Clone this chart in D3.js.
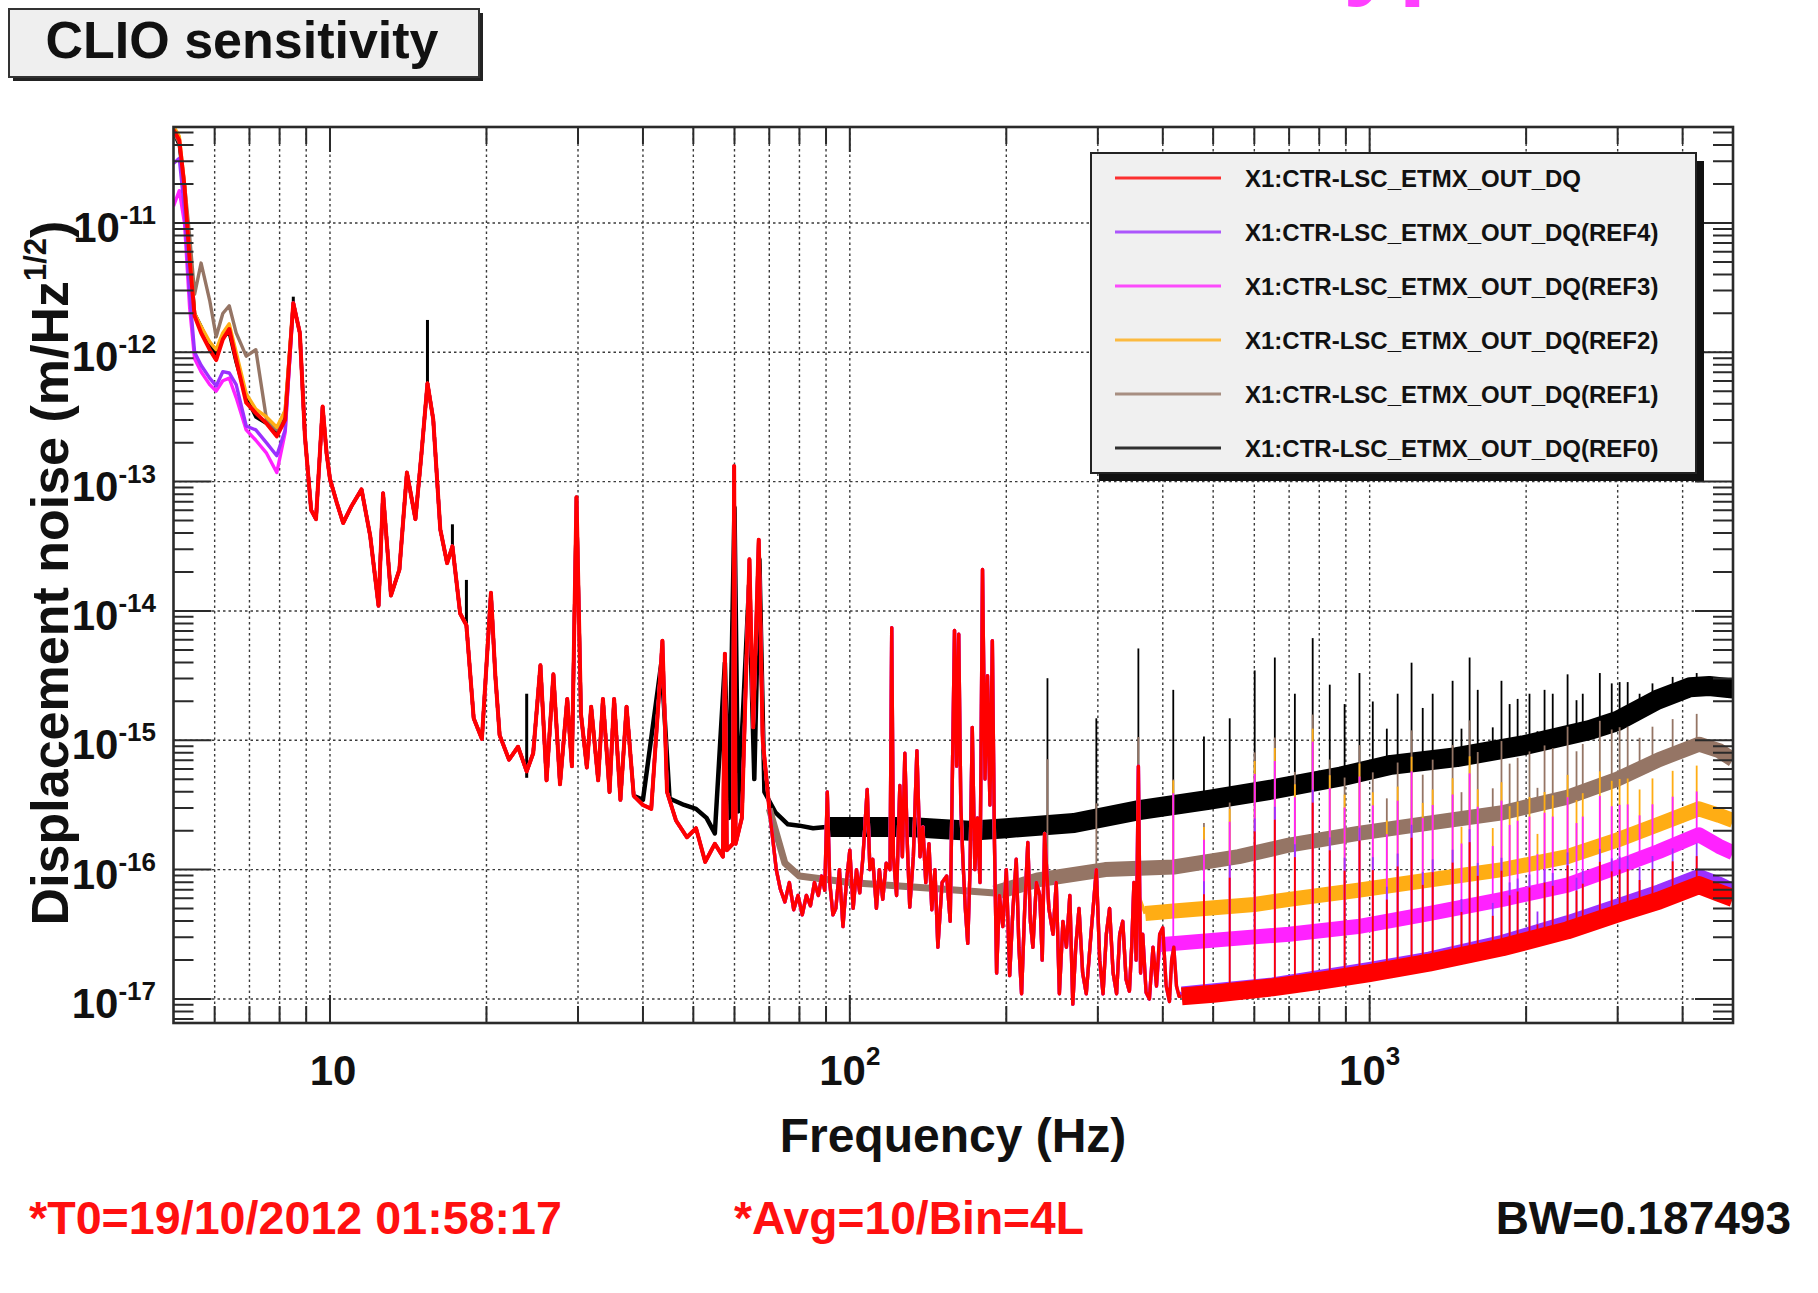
<!DOCTYPE html>
<html>
<head>
<meta charset="utf-8">
<script src="https://cdn.jsdelivr.net/npm/d3@7"></script>
<style>
body { margin: 0; background: #fff; }
svg { display: block; font-family: "Liberation Sans", Arial, Helvetica, sans-serif; font-weight: bold; }
</style>
</head>
<body>
<svg id="chart" width="1818" height="1293"></svg>
<script>
"use strict";

// legend order: main trace first, then REF4 .. REF0
var seriesNames = ["X1:CTR-LSC_ETMX_OUT_DQ", "X1:CTR-LSC_ETMX_OUT_DQ(REF4)", "X1:CTR-LSC_ETMX_OUT_DQ(REF3)",
                   "X1:CTR-LSC_ETMX_OUT_DQ(REF2)", "X1:CTR-LSC_ETMX_OUT_DQ(REF1)", "X1:CTR-LSC_ETMX_OUT_DQ(REF0)"];

// values are log10 of displacement noise (m/Hz^1/2)
var lowHz   = [5.0, 5.13, 5.25, 5.37, 5.49, 5.65, 5.87, 6.04, 6.22, 6.4, 6.6, 6.9, 7.2, 7.55, 7.9, 8.2];
var lowRed  = [-10.28, -10.36, -10.72, -11.28, -11.72, -11.85, -11.98, -12.06, -11.90, -11.82, -12.06, -12.39, -12.47, -12.55, -12.65, -12.52];
var lowRef4 = [-10.54, -10.50, -10.90, -11.55, -12.00, -12.10, -12.20, -12.26, -12.15, -12.16, -12.25, -12.57, -12.60, -12.70, -12.80, -12.60];
var lowRef3 = [-10.87, -10.75, -11.00, -11.65, -12.05, -12.15, -12.25, -12.30, -12.22, -12.20, -12.35, -12.60, -12.68, -12.78, -12.93, -12.62];
var lowRef2 = [-10.25, -10.33, -10.70, -11.25, -11.70, -11.80, -11.92, -11.98, -11.85, -11.78, -12.00, -12.32, -12.44, -12.50, -12.58, -12.45];
var lowRef1 = [-10.30, -10.38, -10.70, -11.10, -11.55, -11.31, -11.60, -11.88, -11.70, -11.64, -11.85, -12.03, -11.98, -12.52, -12.60, -12.45];
var lowRef0 = [-10.30, -10.40, -10.75, -11.20, -11.70, -11.80, -11.95, -12.02, -11.88, -11.85, -12.08, -12.35, -12.50, -12.55, -12.62, -12.50];

// shared by all traces between 8.5 and 70 Hz
var baseHz  = [8.5, 8.75, 8.95, 9.2, 9.4, 9.68, 9.85, 10.0, 10.3, 10.6, 11.0, 11.5, 11.95, 12.4, 12.65,
               13.1, 13.6, 14.06, 14.6, 15.0, 15.4, 15.8, 16.3, 16.8, 17.2, 17.8, 18.3, 18.9, 19.6, 20.4,
               20.8, 21.2, 22.1, 23.0, 23.9, 24.6, 25.4, 26.1, 26.9, 27.7, 28.6, 29.2, 29.8, 30.4, 31.2,
               31.8, 32.8, 33.5, 34.5, 35.2, 36.2, 37.2, 38.4, 40.0, 41.5, 43.2, 43.6, 44.5, 46.3, 48.6,
               50.6, 52.7, 55.0, 57.0, 57.5, 58.0, 59.6, 59.9, 60.3, 62.0, 64.1, 65.2, 66.8, 68.0, 70.0];
var baseLog = [-11.62, -11.85, -12.65, -13.22, -13.29, -12.42, -12.78, -12.98, -13.16, -13.32, -13.19, -13.06, -13.42, -13.96, -13.09,
               -13.88, -13.68, -12.93, -13.29, -12.78, -12.24, -12.52, -13.37, -13.63, -13.50, -14.02, -14.11, -14.83, -14.99, -13.86,
               -14.50, -14.96, -15.15, -15.05, -15.24, -15.10, -14.42, -15.31, -14.49, -15.34, -14.68, -15.20, -13.12, -14.80, -15.21,
               -14.74, -15.31, -14.68, -15.40, -14.68, -15.46, -14.74, -15.43, -15.50, -15.53, -14.49, -14.23, -15.40, -15.62, -15.75,
               -15.68, -15.94, -15.80, -15.90, -14.33, -15.85, -15.80, -12.88, -15.80, -15.60, -13.60, -14.90, -13.45, -15.00, -15.53];

// noisy part of main, REF4, REF3, REF2 between 72 and 430 Hz
var midHz  = [72.2, 73.5, 75, 76.5, 78, 79.5, 81, 82.5, 84, 85.5, 87, 88.3, 89.5, 90.5, 91.5, 92.8, 94, 95.5, 97, 98.5,
              100, 101.5, 103, 104.5, 106, 108, 109.3, 110.7, 112.5, 114, 115.7, 117.5, 119.5, 120.4, 121.3, 123, 124.8, 126.2,
              127.6, 129, 130.4, 132.5, 134.6, 136.5, 138.2, 140, 142, 143.8, 145.8, 147.7, 150.5, 153.6, 156, 159, 160.5, 162,
              163.5, 165, 166.8, 168.6, 170.3, 172, 174, 176, 178, 180, 182, 184, 186, 188, 189.8, 191.6, 194, 197, 200, 203,
              206, 209, 211.5, 214, 217, 220, 222.5, 225, 228.5, 232, 234.5, 237, 241.5, 246, 249.5, 253, 257, 261, 265, 268.5,
              272, 276, 280.5, 285, 291, 298, 302.5, 307, 311.5, 316, 321, 326, 330.5, 335, 340, 345, 348.5, 352, 355.5, 359,
              362.5, 366, 371.5, 377, 383, 389, 394.5, 400, 406, 412, 416, 420, 425, 430];
var midLog = [-16.0, -16.15, -16.25, -16.1, -16.31, -16.2, -16.35, -16.2, -16.28, -16.1, -16.2, -16.05, -16.16, -15.40, -16.1, -16.35, -16.3, -16.0, -16.44, -16.1,
              -15.85, -16.3, -16.0, -16.18, -15.9, -15.38, -16.0, -15.92, -16.3, -16.0, -16.23, -15.95, -16.0, -14.13, -15.9, -16.2, -15.35, -15.9,
              -15.10, -15.8, -16.29, -15.9, -15.08, -15.9, -15.67, -16.1, -15.8, -16.31, -16.0, -16.60, -16.1, -16.05, -16.4, -14.15, -15.2, -14.18,
              -15.5, -15.92, -16.3, -16.57, -16.0, -14.90, -16.0, -15.6, -16.1, -13.68, -15.3, -14.5, -15.5, -14.23, -15.8, -16.80, -16.2, -16.44, -16.0, -16.82,
              -16.3, -15.92, -16.6, -16.96, -16.3, -15.79, -16.4, -16.6, -16.1, -16.2, -16.7, -15.72, -16.3, -16.5, -16.1, -16.96, -16.4, -16.6, -16.2, -17.04,
              -16.6, -16.3, -16.8, -16.96, -16.5, -16.0, -16.7, -16.96, -16.5, -16.3, -16.8, -16.96, -16.5, -16.4, -16.85, -16.94, -16.6, -16.1, -16.7, -15.2,
              -16.8, -16.5, -16.95, -17.0, -16.6, -16.9, -16.5, -16.45, -16.9, -17.02, -16.7, -16.6, -16.9, -16.98];

// REF0 between 40 and 90 Hz, and its extra low frequency peaks
var ref0MidHz  = [40, 43.4, 45, 48, 50.6, 53, 55, 57.5, 58.5, 60, 61, 64, 65.5, 67, 68.5, 72, 76, 80, 85, 90];
var ref0MidLog = [-15.46, -14.4, -15.45, -15.5, -15.53, -15.6, -15.72, -14.4, -15.6, -13.2, -15.55, -13.8, -15.3, -13.6, -15.4,
                  -15.56, -15.65, -15.66, -15.68, -15.67];
var ref0PeakHz  = [8.5, 15.4, 17.2, 18.3, 23.9];
var ref0PeakLog = [-11.57, -11.75, -13.33, -13.76, -14.64];

// high frequency floors
var ref0FloorHz  = [90, 100, 130, 170, 200, 270, 360, 490, 650, 880, 1100, 1470, 1970, 2650, 3000, 3560, 4130, 4500, 5000];
var ref0FloorLog = [-15.67, -15.67, -15.67, -15.70, -15.68, -15.64, -15.54, -15.46, -15.38, -15.28, -15.19, -15.13, -15.04, -14.92, -14.85, -14.69, -14.59, -14.58, -14.60];
var ref1FloorHz  = [75, 80, 100, 150, 190, 230, 310, 420, 560, 700, 950, 1300, 1800, 2400, 3000, 3600, 4300, 4700, 5000];
var ref1FloorLog = [-15.95, -16.05, -16.10, -16.15, -16.18, -16.08, -16.0, -15.98, -15.90, -15.81, -15.72, -15.64, -15.56, -15.44, -15.30, -15.15, -15.03, -15.08, -15.15];
var ref2FloorHz  = [370, 420, 600, 700, 950, 1300, 1800, 2400, 3000, 3600, 4300, 4700, 5000];
var ref2FloorLog = [-16.34, -16.32, -16.27, -16.23, -16.16, -16.08, -16.0, -15.90, -15.77, -15.65, -15.53, -15.58, -15.62];
var ref3FloorHz  = [395, 600, 700, 950, 1300, 1800, 2400, 3000, 3600, 4300, 4700, 5000];
var ref3FloorLog = [-16.58, -16.52, -16.50, -16.44, -16.34, -16.23, -16.12, -15.98, -15.86, -15.73, -15.82, -15.87];
var ref4FloorHz  = [435, 650, 1000, 1300, 1800, 2400, 3000, 3600, 4300, 4700, 5000];
var ref4FloorLog = [-16.95, -16.88, -16.76, -16.68, -16.55, -16.40, -16.27, -16.16, -16.04, -16.10, -16.15];
var redFloorHz   = [435, 500, 650, 800, 1000, 1300, 1800, 2400, 3000, 3600, 4300, 4700, 5000];
var redFloorLog  = [-16.98, -16.96, -16.91, -16.86, -16.80, -16.72, -16.60, -16.47, -16.34, -16.24, -16.12, -16.18, -16.22];

// 60 Hz harmonic lines, tops as seen on REF0
var combHz  = [240, 298, 359, 419, 480, 538, 601, 657, 718, 777, 838, 895, 956, 1014, 1079, 1132, 1204, 1265, 1322, 1444, 1502,
               1557, 1614, 1725, 1793, 1859, 1926, 2030, 2103, 2170, 2250, 2403, 2500, 2570, 2772, 2922, 3026, 3136, 3306, 3500, 3827, 4257];
var combTop = [-14.52, -14.83, -14.29, -14.61, -14.97, -14.83, -14.46, -14.36, -14.64, -14.21, -14.57, -14.72, -14.48, -14.70, -14.91,
               -14.64, -14.40, -14.75, -14.64, -14.54, -14.91, -14.36, -14.61, -14.90, -14.54, -14.72, -14.68, -14.64, -14.93, -14.61,
               -14.64, -14.49, -14.69, -14.64, -14.48, -14.56, -14.55, -14.55, -14.64, -14.56, -14.51, -14.48];
// how high the same lines reach on the other traces
var envHz   = [200, 400, 1000, 2000, 3000, 5000];
var envRef1 = [-15.2, -15.3, -15.15, -15.05, -14.95, -14.9];
var envRef2 = [-15.4, -15.3, -15.3, -15.4, -15.35, -15.3];
var envRef3 = [-15.5, -15.4, -15.4, -15.55, -15.55, -15.5];
var envRef4 = [-15.8, -15.7, -15.8, -16.0, -15.95, -15.9];
var envRed  = [-16.0, -15.8, -15.9, -16.1, -16.05, -16.0];

var yDecades = [-11, -12, -13, -14, -15, -16, -17];
var xLabels = [[10, ""], [100, "2"], [1000, "3"]];

var colors = {red: "#ff0000", ref4: "#9b30ff", ref3: "#ff22ff", ref2: "#ffad14", ref1: "#957565", ref0: "#000000"};
var legendColors = [colors.red, colors.ref4, colors.ref3, colors.ref2, colors.ref1, colors.ref0];

var X0 = 173.5, X1 = 1733, Y0 = 127, Y1 = 1023;

var svg = d3.select('#chart');

var x = d3.scaleLog().domain([5, 5000]).range([X0, X1]);
var y = d3.scaleLog().domain([Math.pow(10, -17.186), Math.pow(10, -10.258)]).range([Y1, Y0]);

function pts(hz, lg) {
  return hz.map(function(f, i){ return [f, lg[i]] })
}
function between(hz, lg, fmin, fmax) {
  return pts(hz, lg).filter(function(d){ return d[0] >= fmin && d[0] <= fmax })
}
function interpLog(hz, lg, f) {
  if (f <= hz[0]) return lg[0];
  if (f >= hz[hz.length - 1]) return lg[lg.length - 1];
  var i = d3.bisectRight(hz, f) - 1;
  var t = (Math.log(f) - Math.log(hz[i])) / (Math.log(hz[i + 1]) - Math.log(hz[i]));
  return lg[i] + t * (lg[i + 1] - lg[i]);
}

var line = d3.line()
  .x(function(d){ return x(d[0]) })
  .y(function(d){ return y(Math.pow(10, d[1])) });

svg.append('rect').attr('width', 1818).attr('height', 1293).attr('fill', '#fff');

svg.append('defs').append('clipPath').attr('id', 'plotclip')
  .append('rect').attr('x', X0).attr('y', Y0).attr('width', X1 - X0).attr('height', Y1 - Y0);

// grid
var xTicks = x.ticks();
var yTicks = y.ticks();
function isMajor(t){ var l = Math.log10(t); return Math.abs(l - Math.round(l)) < 1e-6 }

var grid = svg.append('g').attr('stroke', '#3a3a3a').attr('stroke-width', 1.4).attr('stroke-dasharray', '2.5,3');
grid.selectAll('.vg').data(xTicks.filter(function(t){ return t > 5 && t < 5000 }))
  .enter().append('line').attr('class', 'vg')
  .attr('x1', function(d){ return x(d) }).attr('x2', function(d){ return x(d) })
  .attr('y1', Y0).attr('y2', Y1);
grid.selectAll('.hg').data(yDecades)
  .enter().append('line').attr('class', 'hg')
  .attr('x1', X0).attr('x2', X1)
  .attr('y1', function(d){ return y(Math.pow(10, d)) }).attr('y2', function(d){ return y(Math.pow(10, d)) });

// traces
var plot = svg.append('g').attr('clip-path', 'url(#plotclip)').attr('fill', 'none')
  .attr('stroke-linejoin', 'round');

var traces = [
  {c: colors.ref0, thin: pts(lowHz, lowRef0).concat(between(baseHz, baseLog, 0, 38.4)),
   mid: pts(ref0MidHz, ref0MidLog), floorHz: ref0FloorHz, floorLog: ref0FloorLog, bandFrom: 90, band: 20, env: null},
  {c: colors.ref1, thin: pts(lowHz, lowRef1).concat(pts(baseHz, baseLog)),
   mid: [], floorHz: ref1FloorHz, floorLog: ref1FloorLog, bandFrom: 190, band: 15, env: envRef1},
  {c: colors.ref2, thin: pts(lowHz, lowRef2).concat(pts(baseHz, baseLog)),
   mid: between(midHz, midLog, 0, 352), floorHz: ref2FloorHz, floorLog: ref2FloorLog, bandFrom: 370, band: 15, env: envRef2},
  {c: colors.ref3, thin: pts(lowHz, lowRef3).concat(pts(baseHz, baseLog)),
   mid: between(midHz, midLog, 0, 389), floorHz: ref3FloorHz, floorLog: ref3FloorLog, bandFrom: 395, band: 15, env: envRef3},
  {c: colors.ref4, thin: pts(lowHz, lowRef4).concat(pts(baseHz, baseLog)),
   mid: pts(midHz, midLog), floorHz: ref4FloorHz, floorLog: ref4FloorLog, bandFrom: 435, band: 12, env: envRef4},
  {c: colors.red, thin: pts(lowHz, lowRed).concat(pts(baseHz, baseLog)),
   mid: pts(midHz, midLog), floorHz: redFloorHz, floorLog: redFloorLog, bandFrom: 435, band: 18, env: envRed}
];

traces.forEach(function(t, k){
  var g = plot.append('g').attr('stroke', t.c);

  // harmonic lines, drawn under the floor band
  var spikes = combHz.map(function(f, i){
    var bottom = interpLog(t.floorHz, t.floorLog, f);
    var top = t.env ? interpLog(envHz, t.env, f) + (combTop[i] + 14.6) : combTop[i];
    return {f: f, b: bottom, t: top};
  }).filter(function(s){ return s.f >= t.floorHz[0] && s.t > s.b + 0.05 });

  g.selectAll('.spike').data(spikes).enter().append('line')
    .attr('class', 'spike')
    .attr('stroke-width', 1.8)
    .attr('x1', function(d){ return x(d.f) }).attr('x2', function(d){ return x(d.f) })
    .attr('y1', function(d){ return y(Math.pow(10, d.b)) })
    .attr('y2', function(d){ return y(Math.pow(10, d.t)) });

  g.append('path').datum(between(t.floorHz, t.floorLog, t.bandFrom, 5000))
    .attr('stroke-width', t.band)
    .attr('d', line);

  // medium width for the narrow noisy stretch before the wide band
  var medium = t.thin.slice(-1).concat(t.mid, between(t.floorHz, t.floorLog, 0, t.bandFrom));
  g.append('path').datum(medium)
    .attr('stroke-width', k == 0 ? 4.5 : (k == 1 ? 7 : 3.4))
    .attr('d', line);

  g.append('path').datum(t.thin)
    .attr('stroke-width', k == 5 ? 4 : 3.4)
    .attr('d', line);

  if (k == 0) {
    g.selectAll('.lowpeak').data(pts(ref0PeakHz, ref0PeakLog)).enter().append('line')
      .attr('class', 'lowpeak')
      .attr('stroke-width', 3)
      .attr('x1', function(d){ return x(d[0]) }).attr('x2', function(d){ return x(d[0]) })
      .attr('y1', function(d){ return y(Math.pow(10, interpLog(baseHz, baseLog, d[0]) - 0.05)) })
      .attr('y2', function(d){ return y(Math.pow(10, d[1])) });
  }
});

// frame and ticks
var axes = svg.append('g').attr('stroke', '#2a2a2a').attr('stroke-width', 2);
axes.selectAll('.xt').data(xTicks.filter(function(t){ return t > 5 && t < 5000 })).enter().append('path')
  .attr('class', 'xt')
  .attr('d', function(d){
    var px = x(d), lb = isMajor(d) ? 28 : 17, lt = isMajor(d) ? 25 : 17;
    return 'M' + px + ',' + Y1 + 'V' + (Y1 - lb) + 'M' + px + ',' + Y0 + 'V' + (Y0 + lt);
  });
axes.selectAll('.yt').data(yTicks.filter(function(t){ return y(t) > Y0 && y(t) < Y1 })).enter().append('path')
  .attr('class', 'yt')
  .attr('d', function(d){
    var py = y(d), l = isMajor(d) ? 38 : 20;
    return 'M' + X0 + ',' + py + 'H' + (X0 + l) + 'M' + X1 + ',' + py + 'H' + (X1 - l);
  });
svg.append('rect').attr('x', X0).attr('y', Y0).attr('width', X1 - X0).attr('height', Y1 - Y0)
  .attr('fill', 'none').attr('stroke', '#2a2a2a').attr('stroke-width', 2.6);

// tick labels
svg.selectAll('.ylab').data(yDecades).enter().append('text')
  .attr('class', 'ylab')
  .attr('x', 156)
  .attr('y', function(d){ return y(Math.pow(10, d)) + 19 })
  .attr('text-anchor', 'end').attr('font-size', 42).attr('fill', '#111')
  .each(function(d){
    var t = d3.select(this);
    t.append('tspan').text('10');
    t.append('tspan').attr('dy', -18).attr('font-size', 26).text(String(d));
  });

svg.selectAll('.xlab').data(xLabels).enter().append('text')
  .attr('class', 'xlab')
  .attr('x', function(d){ return x(d[0]) + (d[1] ? 0 : 3) })
  .attr('y', 1085)
  .attr('text-anchor', 'middle').attr('font-size', 42).attr('fill', '#111')
  .each(function(d){
    var t = d3.select(this);
    t.append('tspan').text('10');
    if (d[1]) t.append('tspan').attr('dy', -20).attr('font-size', 26).text(d[1]);
  });

// axis titles
svg.append('text').attr('x', 953).attr('y', 1152).attr('text-anchor', 'middle')
  .attr('font-size', 48).attr('fill', '#111').text('Frequency (Hz)');

var yt = svg.append('text').attr('transform', 'translate(68,573) rotate(-90)')
  .attr('text-anchor', 'middle').attr('font-size', 52).attr('fill', '#111');
yt.append('tspan').text('Displacement noise (m/Hz');
yt.append('tspan').attr('dy', -22).attr('font-size', 31).text('1/2');
yt.append('tspan').attr('dy', 22).text(')');

// legend
var lg = svg.append('g');
lg.append('rect').attr('x', 1099).attr('y', 161).attr('width', 605).attr('height', 320).attr('fill', '#111');
lg.append('rect').attr('x', 1091).attr('y', 153).attr('width', 605).attr('height', 320)
  .attr('fill', '#f0f0f0').attr('stroke', '#222').attr('stroke-width', 2);
var rows = lg.selectAll('.row').data(seriesNames).enter().append('g')
  .attr('class', 'row')
  .attr('transform', function(d, i){ return 'translate(0,' + (178 + i * 54) + ')' });
rows.append('line').attr('x1', 1115).attr('x2', 1221)
  .attr('stroke', function(d, i){ return legendColors[i] }).attr('stroke-width', 3).attr('stroke-opacity', 0.8);
rows.append('text').attr('x', 1245).attr('y', 8.5).attr('font-size', 24).attr('fill', '#111')
  .text(function(d){ return d });

// title box
svg.append('rect').attr('x', 13).attr('y', 13).attr('width', 470).attr('height', 68).attr('fill', '#222');
svg.append('rect').attr('x', 9).attr('y', 9).attr('width', 470).attr('height', 68)
  .attr('fill', '#efefef').attr('stroke', '#333').attr('stroke-width', 2);
svg.append('text').attr('x', 242).attr('y', 58).attr('text-anchor', 'middle')
  .attr('font-size', 52).attr('fill', '#111').text('CLIO sensitivity');

// clipped slide text at the very top
svg.append('text').attr('x', 1343).attr('y', -14).attr('font-size', 100).attr('fill', '#ff40ff').text('yp');

// footer
svg.append('text').attr('x', 29).attr('y', 1234).attr('font-size', 46).attr('fill', '#ff1010')
  .attr('textLength', 533).attr('lengthAdjust', 'spacingAndGlyphs').text('*T0=19/10/2012 01:58:17');
svg.append('text').attr('x', 734).attr('y', 1234).attr('font-size', 46).attr('fill', '#ff1010')
  .attr('textLength', 350).attr('lengthAdjust', 'spacingAndGlyphs').text('*Avg=10/Bin=4L');
svg.append('text').attr('x', 1791).attr('y', 1234).attr('font-size', 46).attr('fill', '#111')
  .attr('text-anchor', 'end').text('BW=0.187493');
</script>
</body>
</html>
